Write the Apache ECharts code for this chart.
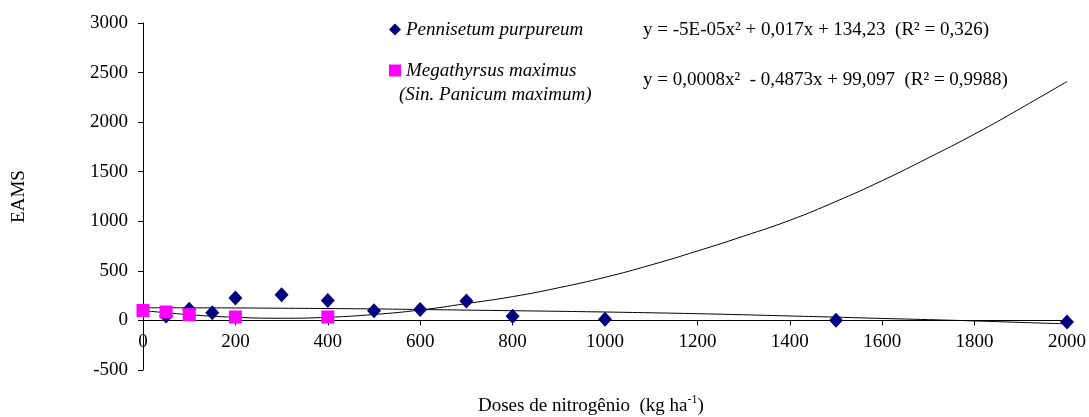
<!DOCTYPE html>
<html>
<head>
<meta charset="utf-8">
<script src="https://cdn.jsdelivr.net/npm/echarts@6/dist/echarts.min.js"></script>
<style>html,body{margin:0;padding:0;background:#fff}#c{width:1089px;height:417px}</style>
</head>
<body>
<div id="c"></div>
<script>
// Observed data: Pennisetum purpureum (x = N dose, y = EAMS)
const pennDoses = [50, 100, 150, 200, 300, 400, 500, 600, 700, 800, 1000, 1500, 2000];
const pennValues = [45, 112, 78, 225, 260, 200, 98, 110, 195, 43, 13, 3, -15];
// Observed data: Megathyrsus maximus
const megaDoses = [0, 50, 100, 200, 400];
const megaValues = [100, 85, 58, 35, 35];
// Trend lines
const trendX = [0, 100, 200, 300, 400, 500, 600, 700, 800, 900, 1000, 1100, 1200, 1300, 1400, 1500, 1600, 1700, 1800, 1900, 2000];
const pennTrend = [128, 127, 126, 123, 120, 116, 110, 104, 98, 92, 85, 77, 68, 57, 45, 33, 20, 8, -5, -20, -35];
const megaTrend = [100, 58, 32, 22, 32, 60, 105, 170, 240, 330, 435, 560, 700, 850, 1010, 1200, 1410, 1640, 1880, 2140, 2410];
const xTicks = [0, 200, 400, 600, 800, 1000, 1200, 1400, 1600, 1800, 2000];
const yTicks = [-500, 0, 500, 1000, 1500, 2000, 2500, 3000];
const eqPenn = 'y = -5E-05x² + 0,017x + 134,23  (R² = 0,326)';
const eqMega = 'y = 0,0008x²  - 0,4873x + 99,097  (R² = 0,9988)';

const pair = (xs, ys) => xs.map((x, i) => [x, ys[i]]);
const FONT = '"Liberation Serif", "DejaVu Serif", serif';
const FS = 19;
const GRID_TOP = 23, GRID_BOTTOM = 47, H = 417;
const yMin = yTicks[0], yMax = yTicks[yTicks.length - 1];
const gridH = H - GRID_TOP - GRID_BOTTOM;
// x axis drawn at y = 0: shift it up from the grid bottom
const zeroOffset = -gridH * (0 - yMin) / (yMax - yMin);

const chart = echarts.init(document.getElementById('c'));
chart.setOption({
  animation: false,
  textStyle: { fontFamily: FONT, color: '#000' },
  grid: { left: 143, right: 22, top: GRID_TOP, bottom: GRID_BOTTOM },
  legend: {
    orient: 'vertical', left: 384, top: 15, itemGap: 22,
    itemWidth: 12, itemHeight: 12,
    data: ['Pennisetum purpureum', 'Megathyrsus maximus'],
    textStyle: { fontFamily: FONT, fontSize: FS, fontStyle: 'italic', color: '#000' }
  },
  xAxis: {
    type: 'value', min: xTicks[0], max: xTicks[xTicks.length - 1], interval: 200,
    position: 'bottom', offset: zeroOffset,
    axisLine: { onZero: false, lineStyle: { color: '#000', width: 1 } },
    axisTick: { show: true, inside: false, length: 5, lineStyle: { color: '#000' } },
    axisLabel: { fontFamily: FONT, fontSize: FS, color: '#000', margin: 12, formatter: v => String(v) },
    splitLine: { show: false }
  },
  yAxis: {
    type: 'value', min: yMin, max: yMax, interval: 500,
    name: 'EAMS', nameLocation: 'middle', nameGap: 114,
    nameTextStyle: { fontFamily: FONT, fontSize: FS, color: '#000' },
    axisLine: { show: true, onZero: false, lineStyle: { color: '#000', width: 1 } },
    axisTick: { show: true, length: 5, lineStyle: { color: '#000' } },
    axisLabel: { fontFamily: FONT, fontSize: FS, color: '#000', margin: 15, formatter: v => String(v) },
    splitLine: { show: false }
  },
  series: [
    { name: 'pennTrend', type: 'line', data: pair(trendX, pennTrend), smooth: true, symbol: 'none',
      lineStyle: { color: '#000', width: 1 }, z: 1, silent: true },
    { name: 'megaTrend', type: 'line', data: pair(trendX, megaTrend), smooth: true, symbol: 'none',
      lineStyle: { color: '#000', width: 1 }, z: 1, silent: true },
    { name: 'Pennisetum purpureum', type: 'scatter', data: pair(pennDoses, pennValues),
      symbol: 'diamond', symbolSize: [14, 15], itemStyle: { color: '#000080', opacity: 1 }, z: 3 },
    { name: 'Megathyrsus maximus', type: 'scatter', data: pair(megaDoses, megaValues),
      symbol: 'rect', symbolSize: 13, itemStyle: { color: '#FF00FF', opacity: 1 }, z: 4 }
  ],
  graphic: [
    { type: 'text', left: 399, top: 85,
      style: { text: '(Sin. Panicum maximum)', font: 'italic ' + FS + 'px ' + FONT, fill: '#000' } },
    { type: 'text', left: 643, top: 21,
      style: { text: eqPenn, font: FS + 'px ' + FONT, fill: '#000' } },
    { type: 'text', left: 643, top: 71,
      style: { text: eqMega, font: FS + 'px ' + FONT, fill: '#000' } },
    { type: 'text', left: 478, top: 394,
      style: {
        rich: {
          a: { font: FS + 'px ' + FONT, fill: '#000', lineHeight: 22, verticalAlign: 'bottom' },
          s: { font: '12px ' + FONT, fill: '#000', lineHeight: 22, verticalAlign: 'top', padding: [0, 0, 7, 0] }
        },
        text: '{a|Doses de nitrogênio  (kg ha}{s|-1}{a|)}'
      } }
  ]
});
</script>
</body>
</html>
